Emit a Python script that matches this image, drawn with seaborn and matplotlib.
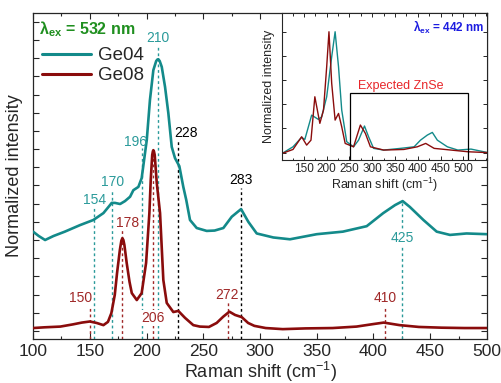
import numpy as np
import pandas as pd
import matplotlib
matplotlib.use('Agg')
import matplotlib.pyplot as plt
import seaborn as sns
from matplotlib.patches import Rectangle

# --- Data (532 nm main panel) ---
ge08_x = [100, 110, 124, 135, 143, 150, 156, 162, 166, 169, 172, 174, 176.5, 177.8, 178.7, 179.6,
          180.5, 182.5, 185, 187, 191.4, 195.7, 199.6, 202.5, 203.7, 205, 205.6, 206, 206.5,
          207.2, 209, 211.9, 214.8, 217.8, 223.6, 228, 233.9, 241.2, 247, 255, 261.8, 267.5,
          273, 278, 283.9, 289.5, 295, 305, 320, 340, 364, 385, 400, 409, 423, 440, 460, 480, 500]
ge08_y = [0.008, 0.010, 0.012, 0.018, 0.023, 0.026, 0.022, 0.016, 0.025, 0.049, 0.099, 0.159,
          0.223, 0.248, 0.255, 0.250, 0.236, 0.187, 0.135, 0.104, 0.085, 0.104, 0.187, 0.324,
          0.415, 0.484, 0.494, 0.497, 0.494, 0.484, 0.407, 0.324, 0.140, 0.077, 0.052, 0.055,
          0.036, 0.016, 0.012, 0.011, 0.022, 0.039, 0.053, 0.044, 0.038, 0.022, 0.014, 0.008,
          0.005, 0.007, 0.008, 0.012, 0.019, 0.023, 0.016, 0.011, 0.009, 0.008, 0.008]

ge04_x = [100, 105, 110.6, 118, 128, 141.4, 153.1, 162, 167, 169.3, 172.2, 176.7, 181, 185.5,
          188.4, 192.8, 195.7, 200.2, 203, 206, 208.5, 209.5, 210.4, 211.6, 213.4, 216.3, 219.2,
          222.2, 225.1, 228.9, 232.4, 235, 238.3, 244.2, 253, 260, 267.7, 275.1, 283.3, 289.7,
          297.1, 311.7, 326.4, 350, 373, 394, 408.6, 419, 425.7, 432, 444, 455.7, 467.4, 482, 500]
ge04_y = [0.273, 0.261, 0.250, 0.261, 0.273, 0.291, 0.305, 0.324, 0.343, 0.352, 0.352, 0.349,
          0.357, 0.369, 0.387, 0.396, 0.420, 0.525, 0.635, 0.717, 0.742, 0.746, 0.747, 0.742,
          0.726, 0.671, 0.599, 0.506, 0.475, 0.453, 0.396, 0.360, 0.305, 0.283, 0.275, 0.276,
          0.283, 0.314, 0.335, 0.300, 0.268, 0.257, 0.252, 0.266, 0.273, 0.288, 0.324, 0.346,
          0.357, 0.341, 0.305, 0.273, 0.264, 0.268, 0.266]

# --- Inset (442 nm) ---
in04_x = [102, 126, 145, 152, 167, 181.6, 189, 200, 211, 218.5, 226, 233, 244, 259, 270, 283,
          292, 303, 325, 362, 392, 406, 421, 432, 443, 465, 488, 517, 554]
in04_y = [-0.007, 0.048, 0.126, 0.109, 0.310, 0.275, 0.296, 0.462, 0.793, 1.0, 0.710, 0.352,
          0.090, 0.048, 0.103, 0.220, 0.131, 0.035, 0.021, 0.035, 0.048, 0.103, 0.145, 0.167,
          0.103, 0.048, 0.021, 0.029, 0.0]
in08_x = [102, 126, 145, 156, 165.5, 174, 185, 193, 200, 205, 211, 218.5, 226, 233, 240.6,
          259, 274, 285, 296, 325, 369.5, 399, 417.5, 436, 473, 510, 554]
in08_y = [-0.007, 0.026, 0.131, 0.062, 0.103, 0.462, 0.242, 0.352, 0.710, 1.0, 0.573, 0.269,
          0.324, 0.214, 0.076, 0.048, 0.228, 0.159, 0.048, 0.021, 0.026, 0.048, 0.076, 0.035,
          0.021, 0.007, 0.0]

# peak markers: position, top of dotted line, label x, label y
teal_peaks = [154, 170, 196, 210]
teal_tops = [0.341, 0.387, 0.503, 0.786]
teal_lab_x = [154, 170, 190, 210]
teal_lab_y = [0.36, 0.41, 0.52, 0.805]
black_peaks = [228, 283]
black_tops = [0.525, 0.393]
black_lab_x = [235, 283]
black_lab_y = [0.545, 0.415]
red_peaks = [150, 178, 272, 410]
red_tops = [0.069, 0.277, 0.080, 0.069]
red_lab_x = [142, 183, 271, 410]
red_lab_y = [0.09, 0.297, 0.10, 0.09]

teal = '#138a8a'
dred = '#8a0c0c'
lteal = '#2a9a9a'
lred = '#a02828'

sns.set_style('ticks')
plt.rcParams['font.family'] = ['Liberation Sans', 'DejaVu Sans']
plt.rcParams['mathtext.fontset'] = 'custom'
plt.rcParams['mathtext.rm'] = 'Liberation Sans'
plt.rcParams['mathtext.it'] = 'Liberation Sans:italic'
plt.rcParams['mathtext.bf'] = 'Liberation Sans:bold'

main = pd.concat([
    pd.DataFrame({'shift': ge04_x, 'intensity': ge04_y, 'sample': 'Ge04'}),
    pd.DataFrame({'shift': ge08_x, 'intensity': ge08_y, 'sample': 'Ge08'}),
])
inset = pd.concat([
    pd.DataFrame({'shift': in04_x, 'intensity': in04_y, 'sample': 'Ge04'}),
    pd.DataFrame({'shift': in08_x, 'intensity': in08_y, 'sample': 'Ge08'}),
])
pal = {'Ge04': teal, 'Ge08': dred}

fig = plt.figure(figsize=(5.01, 3.83), dpi=100)
ax = fig.add_axes([0.066, 0.115, 0.906, 0.851])

ymin = -0.022
dot = (0, (2, 2))

# dotted peak lines
for x, t in zip(teal_peaks, teal_tops):
    ax.plot([x, x], [ymin, t], color=lteal, lw=1, ls=dot, zorder=1)
for x, t in zip(black_peaks, black_tops):
    ax.plot([x, x], [ymin, t], color='black', lw=1, ls=dot, zorder=1)
for x, t in zip(red_peaks, red_tops):
    ax.plot([x, x], [ymin, t], color=lred, lw=1, ls=dot, zorder=1)
ax.plot([425, 425], [ymin, 0.354], color=lteal, lw=1, ls=dot, zorder=1)
ax.plot([206, 206], [ymin, 0.497], color=lred, lw=1, ls=dot, zorder=1)

sns.lineplot(data=main, x='shift', y='intensity', hue='sample', palette=pal,
             lw=1.9, ax=ax, sort=False, zorder=3)

for x, y, s in zip(teal_lab_x, teal_lab_y, teal_peaks):
    ax.text(x, y, str(s), color=lteal, fontsize=10, ha='center', va='center')
for x, y, s in zip(black_lab_x, black_lab_y, black_peaks):
    ax.text(x, y, str(s), color='black', fontsize=10, ha='center', va='center')
for x, y, s in zip(red_lab_x, red_lab_y, red_peaks):
    ax.text(x, y, str(s), color=lred, fontsize=10, ha='center', va='center')
ax.text(425, 0.255, '425', color=lteal, fontsize=10, ha='center', va='center',
        bbox=dict(facecolor='white', edgecolor='none', pad=0.5), zorder=2)
ax.text(206, 0.036, '206', color=lred, fontsize=10, ha='center', va='center',
        bbox=dict(facecolor='white', edgecolor='none', pad=0.5), zorder=2)

ax.set_xlim(100, 500)
ax.set_ylim(ymin, 0.874)
ax.set_xticks(np.arange(100, 501, 50))
ax.set_xticks(np.arange(100, 501, 25), minor=True)
ax.set_yticks(np.arange(0, 0.86, 0.05))
ax.set_yticklabels([])
ax.tick_params(direction='in', top=True, right=True, labelsize=12.5, length=4, width=0.8)
ax.tick_params(which='minor', direction='in', top=True, right=True, length=2.5, width=0.8)
ax.set_xlabel('Raman shift (cm$^{-1}$)', fontsize=13, labelpad=1)
ax.set_ylabel('Normalized intensity', fontsize=13, labelpad=4)
for sp in ax.spines.values():
    sp.set_linewidth(0.9)

leg = ax.legend(loc='upper left', bbox_to_anchor=(-0.005, 0.93), frameon=False, fontsize=13.5,
                handlelength=2.6, handletextpad=0.4, labelspacing=0.15, borderaxespad=0.2)
for h in leg.get_lines():
    h.set_linewidth(2.2)
ax.text(0.012, 0.95, r'$\mathbf{\lambda_{ex}}$ = 532 nm', transform=ax.transAxes,
        color='#1f8f1f', fontsize=11.5, fontweight='bold', ha='left', va='center')

# --- inset ---
ins = fig.add_axes([0.563, 0.582, 0.409, 0.384])
sns.lineplot(data=inset, x='shift', y='intensity', hue='sample', palette=pal,
             lw=1.0, ax=ins, sort=False, legend=False)
ins.add_patch(Rectangle((252, -0.1), 258, 0.59, fill=False, edgecolor='black', lw=0.9, zorder=4))
ins.text(362, 0.555, 'Expected ZnSe', color='#e8262a', fontsize=9, ha='center', va='center')
ins.text(0.985, 0.9, r'$\mathbf{\lambda_{ex}}$ = 442 nm', transform=ins.transAxes,
         color='#1c1ce0', fontsize=8.5, fontweight='bold', ha='right', va='center')
ins.set_xlim(102, 552)
ins.set_ylim(-0.062, 1.155)
ins.set_xticks(np.arange(150, 501, 50))
ins.set_xticks(np.arange(125, 551, 25), minor=True)
ins.set_yticks(np.arange(0, 1.01, 0.2))
ins.set_yticklabels([])
ins.tick_params(direction='in', top=True, right=True, labelsize=8.5, length=3, width=0.7, pad=2)
ins.tick_params(which='minor', direction='in', top=True, right=True, length=1.8, width=0.7)
ins.set_xlabel('Raman shift (cm$^{-1}$)', fontsize=9, labelpad=1)
ins.set_ylabel('Normalized intensity', fontsize=9, labelpad=3)
for sp in ins.spines.values():
    sp.set_linewidth(0.8)

fig.savefig('out.png', dpi=100)
